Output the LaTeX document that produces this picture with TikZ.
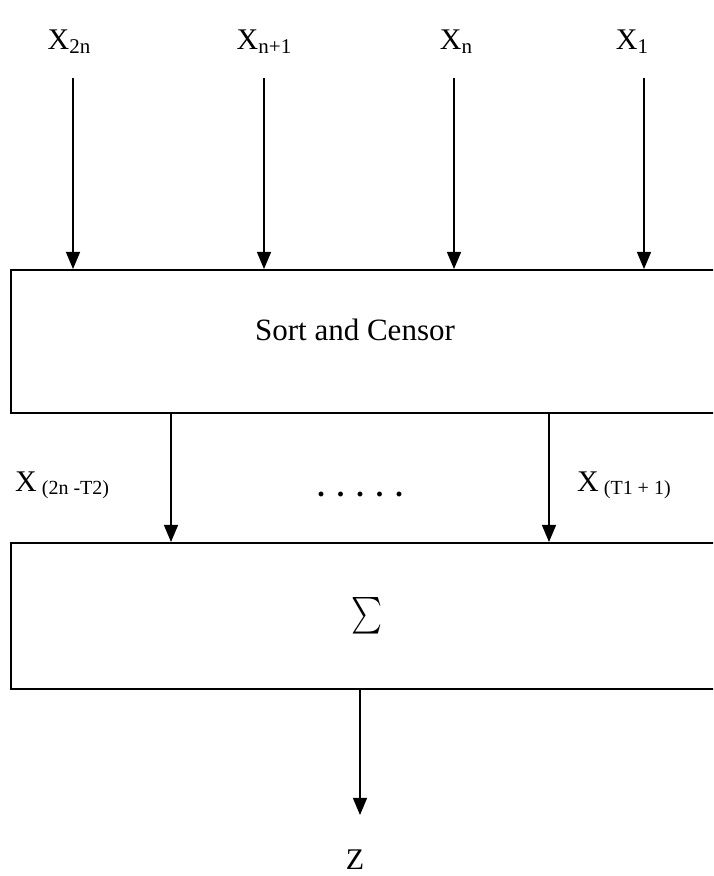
\documentclass[tikz,border=0pt]{standalone}
\usepackage{fontspec}
\setmainfont{Liberation Serif}
\usetikzlibrary{arrows.meta,positioning}
\newcommand{\lsub}[1]{\raisebox{-4pt}{\fontsize{21}{21}\selectfont #1}}
\newcommand{\ssub}[1]{\raisebox{-3pt}{\fontsize{20}{20}\selectfont #1}}
\tikzset{
  blok/.style={draw, line width=1.8pt, minimum width=720pt, inner sep=0pt, anchor=north west},
  arr/.style={line width=1.3pt, -{Triangle[length=17pt,width=14pt]}},
  lbl/.style={font=\fontsize{30}{30}\selectfont, inner sep=0pt},
}
\begin{document}
\begin{tikzpicture}[x=1pt,y=1pt]
\useasboundingbox (0,0) rectangle (713,876);
\fill[white] (0,0) rectangle (713,876);
\clip (0,0) rectangle (713,876);
% blocks
\node[blok, minimum height=143pt] (sort) at (10,607) {};
\node[blok, minimum height=146pt] (sum) at (10,334) {};
\node[lbl, font=\fontsize{31}{31}\selectfont] (sorttxt) at (355,546) {Sort and Censor};
\node[lbl] (sumtxt) at (367,258) {\resizebox{31pt}{41pt}{$\sum$}};
% inputs
\node[lbl, anchor=base] (x2n) at (69,826) {X\lsub{2n}};
\node[lbl, anchor=base] (xn1) at (264,826) {X\lsub{n+1}};
\node[lbl, anchor=base] (xn) at (456,826) {X\lsub{n}};
\node[lbl, anchor=base] (x1) at (632,826) {X\lsub{1}};
\coordinate (a1) at (73,798);
\coordinate (a2) at (264,798);
\coordinate (a3) at (454,798);
\coordinate (a4) at (644,798);
\foreach \a in {a1,a2,a3,a4}
  \draw[arr] (\a) -- (\a |- sort.north);
% censored outputs
\coordinate (b1) at (171,0);
\coordinate (b2) at (549,0);
\draw[arr] (sort.south -| b1) -- (sum.north -| b1);
\draw[arr] (sort.south -| b2) -- (sum.north -| b2);
\node[lbl, anchor=base west] (xlo) at (15,384) {X\,\ssub{(2n -T2)}};
\node[lbl, anchor=base west] (xhi) at (577,384) {X\,\ssub{(T1 + 1)}};
\node[lbl, font=\bfseries\fontsize{30}{30}\selectfont] (dots) at (360,382) {.\hspace{12pt}.\hspace{12pt}.\hspace{12pt}.\hspace{12pt}.};
% output
\coordinate (zend) at (360,61);
\draw[arr] (sum.south -| zend) -- (zend);
\node[lbl, anchor=base] (zout) at (355,6) {Z};
\end{tikzpicture}
\end{document}
